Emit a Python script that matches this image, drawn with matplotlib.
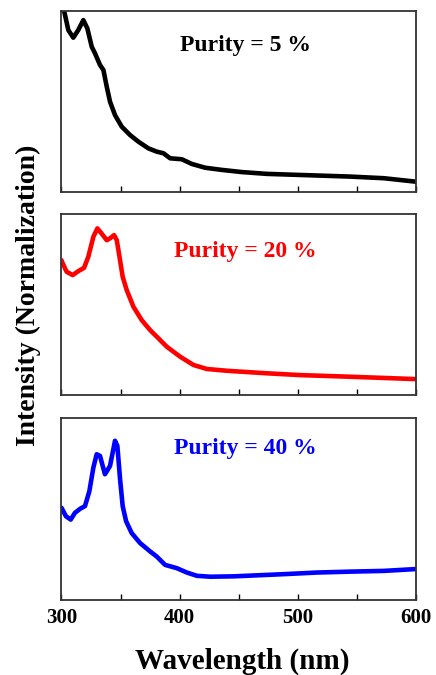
import matplotlib
matplotlib.use("Agg")
import matplotlib.pyplot as plt

plt.rcParams['font.family'] = ['Liberation Serif', 'DejaVu Serif']
plt.rcParams['font.weight'] = 'bold'

# spectra (wavelength in nm, normalized intensity per panel)
wl_5 = [300.0, 302.1, 305.8, 310.0, 314.2, 318.5, 321.9, 325.6, 328.4, 332.6,
        335.5, 338.3, 341.1, 345.3, 351.0, 358.0, 365.1, 373.6, 380.6, 386.3,
        392.0, 401.8, 410.3, 421.6, 435.7, 452.7, 473.9, 502.2, 544.6, 572.9,
        599.7]
int_5 = [1.06, 1.005, 0.895, 0.853, 0.895, 0.950, 0.904, 0.803, 0.766, 0.702,
         0.674, 0.582, 0.499, 0.425, 0.361, 0.315, 0.278, 0.241, 0.223, 0.214,
         0.186, 0.181, 0.155, 0.134, 0.122, 0.110, 0.100, 0.094, 0.085, 0.076,
         0.057]

wl_20 = [300.0, 301.0, 304.4, 309.5, 314.3, 319.1, 322.7, 327.0, 330.4, 333.9,
         338.3, 341.1, 344.5, 346.8, 349.1, 351.8, 355.2, 360.9, 367.9, 375.0,
         382.1, 389.1, 400.4, 411.7, 423.0, 440.0, 473.9, 502.2, 544.6, 599.7]
int_20 = [0.745, 0.728, 0.681, 0.663, 0.685, 0.703, 0.764, 0.875, 0.921, 0.893,
          0.856, 0.866, 0.884, 0.856, 0.764, 0.654, 0.580, 0.488, 0.414, 0.359,
          0.313, 0.267, 0.212, 0.166, 0.144, 0.134, 0.120, 0.110, 0.101, 0.088]

wl_40 = [300.0, 303.8, 307.8, 311.4, 315.7, 319.9, 323.6, 327.0, 329.8, 332.6,
         336.8, 341.1, 345.3, 347.3, 349.6, 351.8, 354.7, 359.4, 366.5, 375.0,
         380.6, 387.7, 397.6, 406.1, 414.6, 425.9, 445.7, 459.8, 488.0, 516.3,
         544.6, 572.9, 599.7]
int_40 = [0.507, 0.460, 0.442, 0.479, 0.501, 0.516, 0.598, 0.728, 0.801, 0.792,
          0.691, 0.737, 0.875, 0.847, 0.663, 0.516, 0.433, 0.368, 0.313, 0.267,
          0.239, 0.193, 0.175, 0.151, 0.133, 0.128, 0.130, 0.134, 0.142, 0.151,
          0.156, 0.160, 0.170]

labels = ["Purity = 5 %", "Purity = 20 %", "Purity = 40 %"]
colors = ["black", "#ff0000", "#0000ff"]
xticks = [300, 400, 500, 600]
minor_xticks = [350, 450, 550]

fig = plt.figure(figsize=(4.36, 6.75), dpi=100)
rects = [[0.141, 0.7156, 0.813, 0.268],
         [0.141, 0.4148, 0.813, 0.268],
         [0.141, 0.1111, 0.813, 0.2696]]
label_y = [0.81, 0.796, 0.832]
series = [(wl_5, int_5), (wl_20, int_20), (wl_40, int_40)]

for i, (x, y) in enumerate(series):
    ax = fig.add_axes(rects[i])
    ax.plot(x, y, color=colors[i], lw=3.3, solid_joinstyle='round',
            solid_capstyle='round')
    ax.set_xlim(300, 600)
    ax.set_ylim(0, 1)
    ax.set_yticks([])
    ax.set_xticks(xticks)
    ax.set_xticks(minor_xticks, minor=True)
    ax.tick_params(axis='x', which='both', direction='in', length=4,
                   width=1, top=False, labelsize=15, pad=6)
    for s in ax.spines.values():
        s.set_linewidth(1.3)
        s.set_color('#333333')
    if i < 2:
        ax.set_xticklabels([])
    else:
        for t in ax.get_xticklabels():
            t.set_fontweight('bold')
    ax.text(0.518, label_y[i], labels[i], transform=ax.transAxes,
            ha='center', va='center', color=colors[i], fontsize=17,
            fontweight='bold')

fig.text(0.556, 0.02, "Wavelength (nm)", ha='center', va='center',
         fontsize=21, fontweight='bold')
fig.text(0.066, 0.563, "Intensity (Normalization)", ha='center',
         va='center', rotation=90, fontsize=20, fontweight='bold')

fig.savefig("out.png", dpi=100)
